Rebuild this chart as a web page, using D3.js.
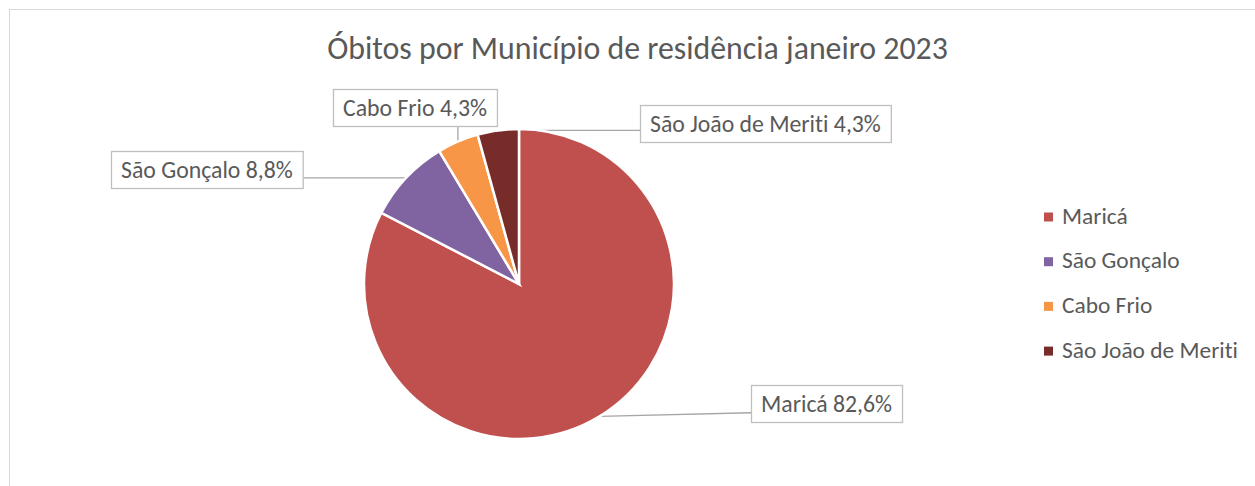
<!DOCTYPE html>
<html lang="pt">
<head>
<meta charset="UTF-8">
<title>Óbitos por Município</title>
<script src="https://d3js.org/d3.v7.min.js"></script>
<style>
  body { margin: 0; background: #fff; }
  svg text { font-family: Carlito, Calibri, "Open Sans", sans-serif; fill: #595959; font-variant-ligatures: none; }
</style>
</head>
<body>
<div id="chart"></div>
<script>
// data
var categories = ["Maricá", "São Gonçalo", "Cabo Frio", "São João de Meriti"];
var percents = [82.6, 8.8, 4.3, 4.3];
var colors = ["#c0504d", "#8064a2", "#f79646", "#772c2a"];
var title = "Óbitos por Município de residência janeiro 2023";

// layout
var W = 1255, H = 486;
var cx = 519, cy = 284, radius = 155;
// top-left corner of each data label box
var labelPos = [[751, 385], [111, 151], [333, 89], [640, 105]];

var svg = d3.select("#chart").append("svg")
    .attr("width", W)
    .attr("height", H);

// chart area border
svg.append("rect")
    .attr("x", 9.5).attr("y", 9.5)
    .attr("width", W + 20).attr("height", H + 20)
    .attr("fill", "#fff")
    .attr("stroke", "#d9d9d9");

// fit a font size so a string reaches a given width
function fitSize(str, target, base) {
    var t = svg.append("text").style("font-size", base + "px").text(str);
    var w = t.node().getComputedTextLength();
    t.remove();
    return base * target / w;
}
var titleSize = fitSize(title, 621, 24);
var textSize = fitSize("São João de Meriti", 176, 20);
var labelSize = fitSize("São João de Meriti 4,3%", 231, 20);

svg.append("text")
    .attr("x", 637.5).attr("y", 59)
    .attr("text-anchor", "middle")
    .style("font-size", titleSize + "px")
    .text(title);

var data = categories.map(function (c, i) {
    return { name: c, value: percents[i], color: colors[i], i: i };
});

var pie = d3.pie().sort(null).value(function (d) { return d.value; });
var arcs = pie(data);
var arc = d3.arc().innerRadius(0).outerRadius(radius);
var edge = d3.arc().innerRadius(radius).outerRadius(radius);

var g = svg.append("g").attr("transform", "translate(" + cx + "," + cy + ")");

g.selectAll("path.slice")
    .data(arcs)
    .enter().append("path")
    .attr("class", "slice")
    .attr("d", arc)
    .attr("fill", function (d) { return d.data.color; })
    .attr("stroke", "#fff")
    .attr("stroke-width", 2.5);

// data labels with leader lines
var fmt = function (v) { return v.toFixed(1).replace(".", ",") + "%"; };
arcs.forEach(function (a) {
    var p = labelPos[a.data.i];
    var str = a.data.name + " " + fmt(a.data.value);
    var t = svg.append("text")
        .attr("x", p[0] + 10).attr("y", p[1] + 27)
        .style("font-size", labelSize + "px")
        .text(str);
    var tw = t.node().getComputedTextLength();
    var bw = tw + 20, bh = 37;
    var c = edge.centroid(a);
    var ax = cx + c[0], ay = cy + c[1];
    var ex = Math.max(p[0] + bw * 0.35, Math.min(p[0] + bw, ax));
    if (ax < p[0]) ex = p[0];
    var ey = Math.max(p[1], Math.min(p[1] + bh * 0.75, ay));
    if (ay > p[1] + bh) ey = p[1] + bh;
    svg.insert("line", "text")
        .attr("x1", ax).attr("y1", ay)
        .attr("x2", ex).attr("y2", ey)
        .attr("stroke", "#a6a6a6")
        .attr("stroke-width", 1.3);
    svg.insert("rect", "text")
        .attr("x", p[0] + 0.5).attr("y", p[1] + 0.5)
        .attr("width", bw).attr("height", bh)
        .attr("fill", "#fff")
        .attr("stroke", "#bfbfbf")
        .attr("stroke-width", 1.3);
});

// legend
var legend = svg.append("g").selectAll("g")
    .data(data)
    .enter().append("g")
    .attr("transform", function (d, i) { return "translate(1044," + (217 + i * 44.7) + ")"; });

legend.append("rect")
    .attr("x", 0).attr("y", -4.5)
    .attr("width", 9).attr("height", 9)
    .attr("fill", function (d) { return d.color; });

legend.append("text")
    .attr("x", 18).attr("y", 6.5)
    .style("font-size", textSize + "px")
    .text(function (d) { return d.name; });
</script>
</body>
</html>
